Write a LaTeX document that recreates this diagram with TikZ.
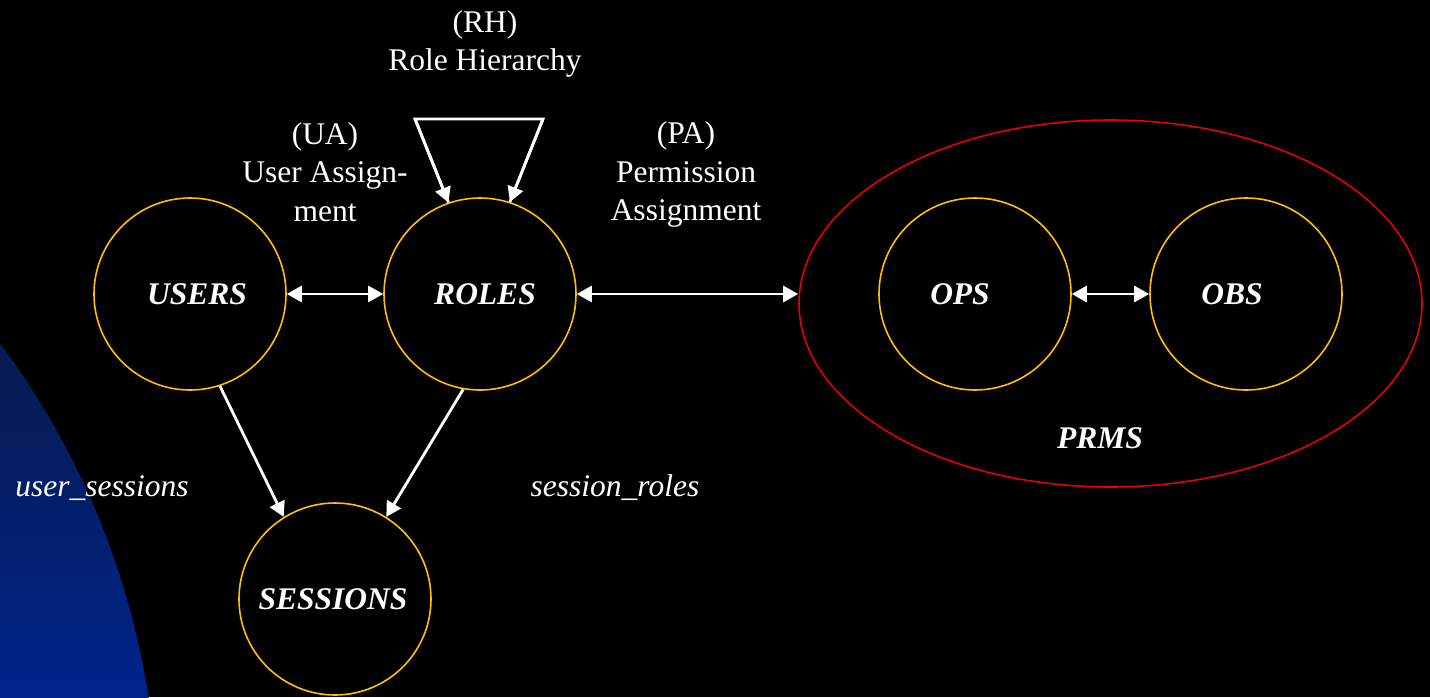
\documentclass[tikz,border=0pt]{standalone}
\usepackage{fontspec}
\setmainfont{Liberation Serif}
\usetikzlibrary{arrows.meta,shapes.geometric}
\definecolor{ringgold}{RGB}{255,192,0}
\definecolor{setred}{RGB}{230,0,0}
\definecolor{navytop}{RGB}{8,26,76}
\definecolor{navybot}{RGB}{0,36,140}
\tikzset{
  every node/.style={text=white, font=\fontsize{31.5}{38.5}\selectfont},
  bolditalic/.style={font=\fontsize{31.5}{38.5}\selectfont\bfseries\itshape},
  entity/.style={circle, draw=ringgold, line width=1.6pt, minimum size=192pt, inner sep=0pt},
  rel/.style={draw=white, line width=2.8pt},
  tip/.style={-{Triangle[length=15pt,width=16pt]}},
  bitip/.style={{Triangle[length=15pt,width=16pt]}-{Triangle[length=15pt,width=16pt]}},
  caption/.style={align=center, inner sep=0pt},
}
\begin{document}
\begin{tikzpicture}[x=1pt,y=-1pt]
  \useasboundingbox (0,0) rectangle (1430,697);
  \fill[black] (0,0) rectangle (1430,697);
  % blue backdrop arc on the lower left
  \begin{scope}
    \clip (0,0) rectangle (1430,697);
    \clip (-640,820) circle (798);
    \shade[top color=navytop, bottom color=navybot] (-5,330) rectangle (170,700);
  \end{scope}

  % entity sets
  \node[entity, label={[bolditalic, xshift=7pt]center:USERS}] (users) at (190,294) {};
  \node[entity, label={[bolditalic, xshift=5pt]center:ROLES}] (roles) at (480,294) {};
  \node[entity, label={[bolditalic, xshift=-2pt]center:SESSIONS}] (sessions) at (335,599) {};
  \node[entity, label={[bolditalic, xshift=-15pt]center:OPS}] (ops) at (975,294) {};
  \node[entity, label={[bolditalic, xshift=-14pt]center:OBS}] (obs) at (1246,294) {};
  \node[ellipse, draw=setred, line width=1.6pt, minimum width=623pt, minimum height=367pt, inner sep=0pt] (prms) at (1110.5,303.5) {};
  \node[bolditalic] (prmslabel) at (1100,438) {PRMS};

  % role hierarchy loop
  \coordinate (rhl) at (415,119);
  \coordinate (rhr) at (543,119);
  \draw[rel, line join=miter] (roles.109) -- (rhl) -- (rhr) -- (roles.72);
  \draw[rel, tip] (rhl) -- (roles.109);
  \draw[rel, tip] (rhr) -- (roles.72);

  % assignments
  \draw[rel, bitip] (users) -- (roles);
  \draw[rel, bitip] (roles) -- (roles -| prms.west);
  \draw[rel, bitip] (ops) -- (obs);
  \draw[rel, tip] (users.288) -- (sessions.122);
  \draw[rel, tip] (roles.260) -- (sessions.58);

  % labels
  \node[caption] (rhlabel) at (485,44) {(RH)\\Role Hierarchy};
  \node[caption] (ualabel) at (325,172) {(UA)\\User Assign-\\ment};
  \node[caption] (palabel) at (686,174.5) {(PA)\\Permission\\Assignment};
  \node[font=\fontsize{31.5}{38.5}\selectfont\itshape] (uslabel) at (102,488) {user\_sessions};
  \node[font=\fontsize{31.5}{38.5}\selectfont\itshape] (srlabel) at (615,488) {session\_roles};
\end{tikzpicture}
\end{document}
